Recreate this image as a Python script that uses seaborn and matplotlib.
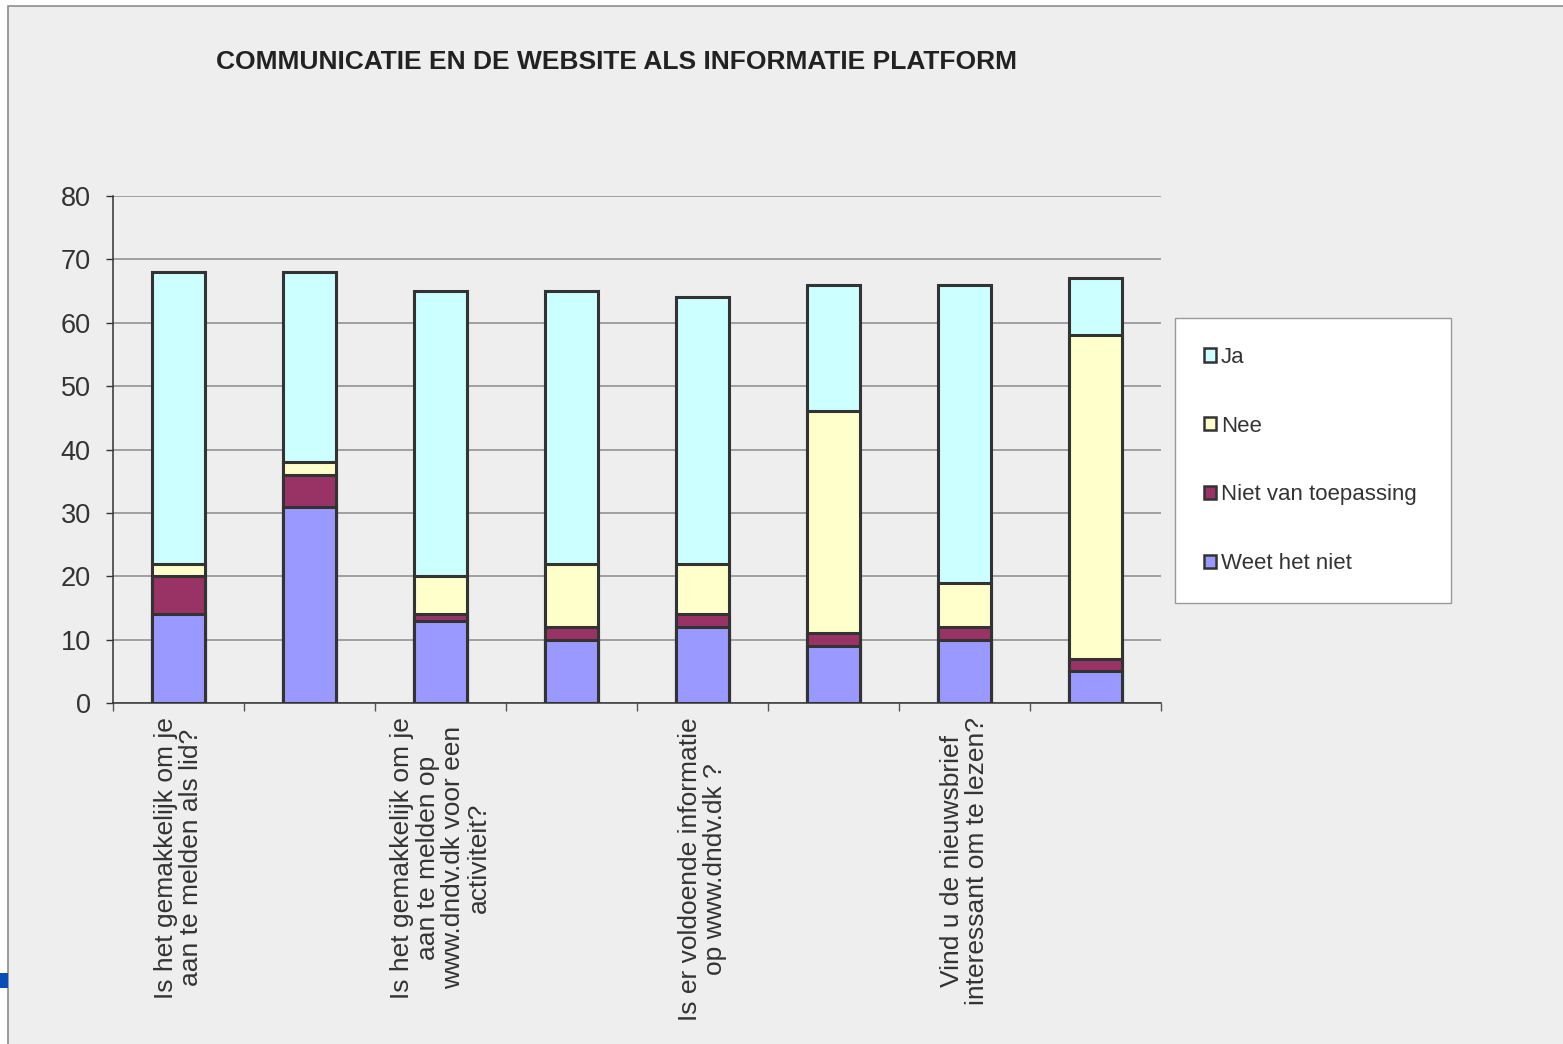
import matplotlib
matplotlib.use("Agg")
import matplotlib.pyplot as plt
import seaborn as sns
import pandas as pd
import numpy as np
from matplotlib.patches import Patch, Rectangle

sns.set_theme(style="white")
plt.rcParams['font.family'] = ['Liberation Sans', 'DejaVu Sans']

# ---- data ----
tick_labels = [
    "Is het gemakkelijk om je\naan te melden als lid?",
    "",
    "Is het gemakkelijk om je\naan te melden op\nwww.dndv.dk voor een\nactiviteit?",
    "",
    "Is er voldoende informatie\nop www.dndv.dk ?",
    "",
    "Vind u de nieuwsbrief\ninteressant om te lezen?",
    "",
]
categories = ["Q1", "Q2", "Q3", "Q4", "Q5", "Q6", "Q7", "Q8"]
weet_het_niet = [14, 31, 13, 10, 12, 9, 10, 5]
niet_van_toepassing = [6, 5, 1, 2, 2, 2, 2, 2]
nee = [2, 2, 6, 10, 8, 35, 7, 51]
ja = [46, 30, 45, 43, 42, 20, 47, 9]

series_names = ["Weet het niet", "Niet van toepassing", "Nee", "Ja"]
series_colors = ["#9999FF", "#993366", "#FFFFCC", "#CCFFFF"]

df = pd.DataFrame({
    "cat": categories,
    "Weet het niet": weet_het_niet,
    "Niet van toepassing": niet_van_toepassing,
    "Nee": nee,
    "Ja": ja,
})
cum = df[series_names].cumsum(axis=1)

W, H = 1563, 1044
fig = plt.figure(figsize=(W / 100, H / 100), dpi=100)
fig.patch.set_facecolor("white")
# outer chart border / background
fig.patches.append(Rectangle((8 / W, -0.1), 1.2, (H - 6) / H + 0.1,
                             transform=fig.transFigure, facecolor="#EEEEEE",
                             edgecolor="#8C8C8C", linewidth=1.2, zorder=-10))
fig.patches.append(Rectangle((0, (H - 988) / H), 8 / W, 15 / H,
                             transform=fig.transFigure, facecolor="#0A4DB5",
                             edgecolor="none", zorder=-9))

ax = fig.add_axes([113 / W, (H - 703) / H, (1161 - 113) / W, (703 - 196) / H])
ax.set_facecolor("#EEEEEE")

for name, color in reversed(list(zip(series_names, series_colors))):
    sns.barplot(x=df["cat"], y=cum[name], order=categories, color=color,
                width=0.4, edgecolor="#333333", linewidth=2.2, saturation=1,
                ax=ax, zorder=3, errorbar=None)

ax.set_ylim(0, 80)
ax.set_xlim(-0.5, 7.5)
ax.set_yticks(range(0, 81, 10))
ax.yaxis.grid(True, color="#8A8A8A", linewidth=1.1, zorder=0)
ax.set_axisbelow(True)
ax.set_xlabel("")
ax.set_ylabel("")

for s in ["top", "right"]:
    ax.spines[s].set_visible(False)
for s in ["left", "bottom"]:
    ax.spines[s].set_color("#333333")
    ax.spines[s].set_linewidth(1.1)

ax.tick_params(axis="y", which="major", length=5, width=1, color="#333333",
               labelsize=19.5, labelcolor="#333333", pad=11, left=True)

ax.set_xticks(range(len(categories)))
ax.set_xticklabels(tick_labels, rotation=90, ha="center", va="top",
                   multialignment="center", fontsize=19, color="#333333",
                   linespacing=1.1)
ax.tick_params(axis="x", which="major", length=0, pad=10)
ax.set_xticks(np.arange(-0.5, 8.0, 1.0), minor=True)
ax.tick_params(axis="x", which="minor", length=6, width=1, color="#555555",
               bottom=True)

fig.text(617 / W, (H - 62) / H, "COMMUNICATIE EN DE WEBSITE ALS INFORMATIE PLATFORM",
         ha="center", va="center", fontsize=19, color="#222222", fontweight="bold")

handles = [Patch(facecolor=c, edgecolor="#333333", linewidth=1.8, label=n)
           for n, c in zip(series_names[::-1], series_colors[::-1])]
leg = fig.legend(handles=handles, loc="upper left",
                 bbox_to_anchor=(1175 / W, (H - 319) / H, (1451 - 1175) / W, 0.001),
                 mode="expand", frameon=True, fontsize=16, labelspacing=2.15,
                 handlelength=0.55, handleheight=0.55, handletextpad=0.22,
                 borderpad=1.3, borderaxespad=0, fancybox=False, framealpha=1)
leg.get_frame().set_edgecolor("#999999")
leg.get_frame().set_facecolor("white")
leg.get_frame().set_linewidth(1.0)
for t in leg.get_texts():
    t.set_color("#333333")

fig.savefig("out.png", dpi=100, facecolor=fig.get_facecolor())
